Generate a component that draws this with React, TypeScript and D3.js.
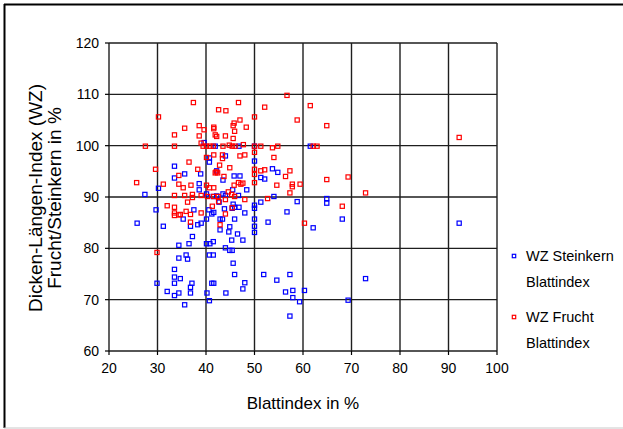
import React from "react";
import * as d3 from "d3";

const steinkernPoints: [number, number][] = [
  [27.4,90.5],[30.2,91.7],[25.8,84.9],[29.7,87.5],[31.2,84.3],[33.5,96.0],[33.5,93.7],[35.6,94.5],[38.9,94.5],[38.6,92.6],[38.6,91.4],[40.7,96.8],[42.2,95.1],[41.9,99.9],[39.6,100.6],[46.8,99.9],[61.5,99.9],[50.0,99.9],
  [35.3,85.7],[37.5,87.5],[36.8,84.3],[38.3,84.6],[39.0,84.9],[37.2,82.3],[34.4,80.6],[36.5,80.9],[40.1,80.9],[40.8,80.9],[41.5,81.3],[35.9,78.7],[36.2,77.9],[34.4,78.1],[40.7,78.7],[41.5,78.7],[33.5,75.9],[33.5,74.4],[34.7,74.1],[29.9,73.2],[33.5,73.2],[37.1,73.2],[36.8,72.4],[41.2,73.2],[41.6,73.2],[32.0,71.6],[34.4,71.3],[33.5,70.8],[36.8,71.3],[40.2,71.3],[40.7,69.8],[35.6,69.0],
  [40.1,85.7],[40.6,87.5],[41.5,90.1],[42.7,89.0],[45.6,88.6],[45.9,88.0],[45.4,87.8],[46.8,88.0],[43.8,87.7],[41.6,87.0],[41.2,86.7],[48.0,86.9],[50.0,88.4],[50.0,87.8],[51.3,89.0],[56.7,87.1],[58.8,89.1],[54.0,90.1],
  [42.9,85.7],[43.4,85.7],[45.9,85.7],[50.0,85.7],[52.8,85.1],[42.9,83.6],[44.9,84.2],[44.7,83.2],[46.5,82.8],[50.0,84.3],[50.0,83.1],[45.3,81.6],[47.6,81.6],[44.0,80.1],[44.9,79.6],[45.4,79.6],[45.6,77.1],[45.9,74.9],[51.9,74.9],[54.6,73.8],[57.3,74.9],[48.0,73.3],[47.6,72.1],[44.1,71.3],[56.4,71.5],[57.9,71.8],[57.9,70.4],[59.3,69.6],[60.3,71.8],[57.3,66.8],[69.3,69.9],[72.9,74.1],[92.2,84.9],[64.9,89.7],[64.9,88.8],[68.1,85.7],[62.1,84.0],
  [40.7,97.6],[44.0,98.0],[50.0,97.0],[53.7,95.5],[54.8,94.8],[51.3,93.8],[52.1,93.5],[45.8,94.1],[47.0,94.1],[43.5,93.3],[45.5,91.4],[48.4,91.4],[40.1,90.6],[42.2,90.2],[43.5,90.6],[46.7,90.3],[44.0,90.3],
];

const fruchtPoints: [number, number][] = [
  [37.4,108.4],[46.7,108.4],[56.7,109.8],[42.6,107.0],[44.1,106.8],[52.1,107.5],[61.5,107.8],[30.2,105.6],[50.0,105.6],[58.8,105.0],[47.0,105.0],[45.8,104.4],[64.9,103.9],[35.6,103.4],[38.6,103.9],[39.6,103.1],[41.6,103.6],[41.6,103.3],[45.6,103.9],[45.9,102.8],[48.3,103.6],[33.5,102.1],[38.6,101.9],[41.9,102.1],[42.2,101.8],[44.0,101.9],[45.6,101.4],[39.0,100.5],
  [27.5,99.9],[33.5,99.9],[39.4,99.9],[40.1,99.9],[40.8,99.9],[41.5,99.9],[43.5,99.9],[44.8,100.1],[45.4,99.9],[46.0,99.9],[47.7,100.2],[50.0,99.9],[51.3,99.9],[53.7,99.6],[54.8,99.9],[62.1,99.9],[62.9,99.9],[92.2,101.6],
  [40.1,97.7],[41.6,98.2],[43.4,98.2],[43.4,97.5],[47.0,98.0],[48.0,98.2],[50.0,98.7],[54.0,97.7],[36.5,96.8],[42.8,96.2],[44.9,95.7],[38.3,95.4],[29.6,95.4],[42.1,94.9],[42.4,94.7],[41.9,94.7],[43.7,94.0],[50.0,95.4],[50.0,94.4],[51.3,95.1],[52.1,95.3],[57.3,95.1],[56.4,94.0],[34.4,94.2],[64.9,93.4],[69.3,93.9],
  [25.7,92.8],[31.2,92.5],[34.4,92.5],[35.3,91.8],[36.9,92.3],[40.1,92.3],[40.7,91.8],[41.6,91.8],[45.8,92.3],[46.7,92.8],[47.2,92.5],[47.6,92.7],[50.0,92.8],[54.6,92.3],[57.8,92.5],[57.8,92.0],[59.4,92.5],[57.3,90.8],[72.9,90.8],[68.1,88.2],[60.3,84.9],
  [33.5,90.3],[35.6,90.3],[37.2,90.5],[37.2,89.9],[39.0,90.3],[40.3,90.1],[41.6,90.1],[42.5,90.1],[44.0,89.5],[44.6,91.0],[45.3,90.5],[45.9,90.1],[48.0,89.5],[52.7,89.7],
  [32.0,88.3],[33.5,88.0],[33.5,86.9],[33.5,86.4],[34.4,86.5],[34.7,86.6],[36.2,89.0],[35.9,87.2],[36.8,86.6],[39.0,86.9],[36.8,85.1],[41.3,88.2],[42.6,89.1],[45.4,87.9],[44.0,86.7],[42.9,84.6],[29.9,79.2],
];

const xTicks = [20, 30, 40, 50, 60, 70, 80, 90, 100];
const yTicks = [60, 70, 80, 90, 100, 110, 120];
const seriesNames = [
  ["WZ Steinkern", "Blattindex"],
  ["WZ Frucht", "Blattindex"],
];
const seriesColors = ["#0000ff", "#ff0000"];
const xTitle = "Blattindex in %";
const yTitle = ["Dicken-Längen-Index (WZ)", "Frucht/Steinkern in %"];

const W = 623, H = 429;
const PL = 109, PR = 497, PT = 43, PB = 351;
const FONT = "'Liberation Sans', Arial, sans-serif";

export default function App() {
  const x = d3.scaleLinear().domain([20, 100]).range([PL, PR]);
  const y = d3.scaleLinear().domain([60, 120]).range([PB, PT]);
  const ms = 4.2;
  const marker = (p: [number, number], i: number, color: string) => (
    <rect key={i} x={x(p[0]) - ms / 2} y={y(p[1]) - ms / 2} width={ms} height={ms}
      fill="none" stroke={color} strokeWidth={1.2} />
  );
  return (
    <svg width={W} height={H} style={{ position: "fixed", left: 0, top: 0, background: "#fff" }}
      fontFamily={FONT}>
      <rect x={0} y={0} width={W} height={H} fill="#fff" />
      {/* outer frame */}
      <line x1={4.5} y1={4} x2={4.5} y2={428} stroke="#000" strokeWidth={2} />
      <line x1={4} y1={4.5} x2={623} y2={4.5} stroke="#000" strokeWidth={2} />
      <line x1={4} y1={428} x2={623} y2={428} stroke="#c8c8c8" strokeWidth={1} />
      {/* grid */}
      {xTicks.map((t) => (
        <line key={"gx" + t} x1={x(t)} x2={x(t)} y1={PT} y2={PB} stroke="#1e1e1e" strokeWidth={1.4} />
      ))}
      {yTicks.map((t) => (
        <line key={"gy" + t} x1={PL} x2={PR} y1={y(t)} y2={y(t)} stroke="#1e1e1e" strokeWidth={1.4} />
      ))}
      {/* ticks */}
      {xTicks.map((t) => (
        <line key={"tx" + t} x1={x(t)} x2={x(t)} y1={PB} y2={PB + 4} stroke="#000" strokeWidth={1.2} />
      ))}
      {yTicks.map((t) => (
        <line key={"ty" + t} x1={PL - 4} x2={PL} y1={y(t)} y2={y(t)} stroke="#000" strokeWidth={1.2} />
      ))}
      {xTicks.map((t) => (
        <text key={"lx" + t} x={x(t)} y={373} textAnchor="middle" fontSize={14} fill="#000">{t}</text>
      ))}
      {yTicks.map((t) => (
        <text key={"ly" + t} x={99} y={y(t) + 5} textAnchor="end" fontSize={14} fill="#000">{t}</text>
      ))}
      {/* points */}
      <g>{steinkernPoints.map((p, i) => marker(p, i, seriesColors[0]))}</g>
      <g>{fruchtPoints.map((p, i) => marker(p, i, seriesColors[1]))}</g>
      {/* titles */}
      <text x={(PL + PR) / 2} y={409} textAnchor="middle" fontSize={17} fill="#000">{xTitle}</text>
      <text transform={`translate(42,198) rotate(-90)`} textAnchor="middle" fontSize={19} fill="#000">{yTitle[0]}</text>
      <text transform={`translate(61,198) rotate(-90)`} textAnchor="middle" fontSize={19} fill="#000">{yTitle[1]}</text>
      {/* legend */}
      {seriesNames.map((lines, i) => {
        const cy = i === 0 ? 256 : 317;
        return (
          <g key={"lg" + i}>
            <rect x={514 - 1.7} y={cy - 1.7} width={3.4} height={3.4} fill="none" stroke={seriesColors[i]} strokeWidth={1.2} />
            <text x={526} y={cy + 5} fontSize={14.5} fill="#000">{lines[0]}</text>
            <text x={526} y={cy + 31} fontSize={14.5} fill="#000">{lines[1]}</text>
          </g>
        );
      })}
    </svg>
  );
}
